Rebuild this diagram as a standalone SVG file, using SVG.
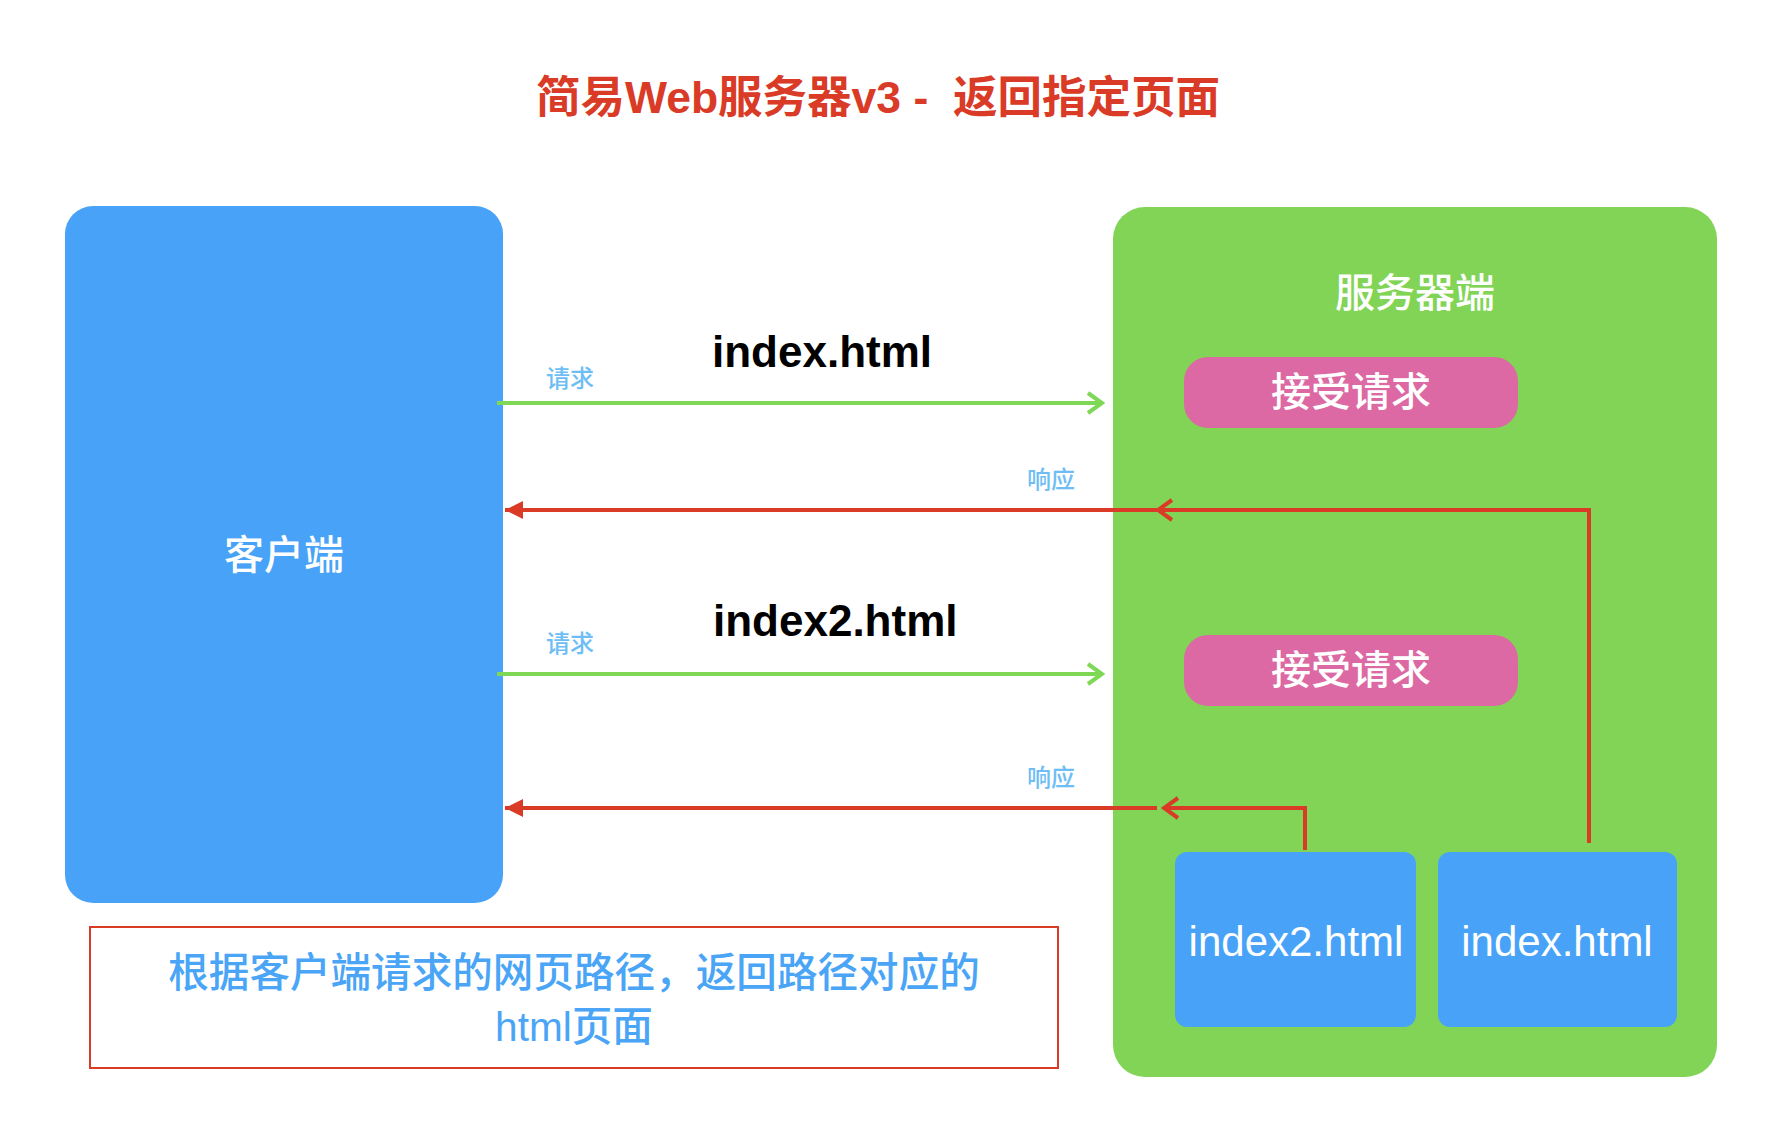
<svg xmlns="http://www.w3.org/2000/svg" width="1782" height="1124" viewBox="0 0 1782 1124">
  <style>
    .cjk { font-family: "Liberation Sans", "Noto Sans CJK SC", sans-serif; }
    .white { fill: #FFFFFF; }
    .lbl { font-size: 24px; fill: #6EBEF5; font-weight: 500; }
    .big { font-size: 40px; font-weight: 500; }
    .file { font-family: "Liberation Sans", Arial, sans-serif; font-size: 44px; font-weight: bold; fill: #000000; }
    .green { stroke: #7ED856; stroke-width: 4; fill: none; }
    .red { stroke: #D93B27; stroke-width: 4; fill: none; }
  </style>
  <defs>
    <marker id="chevG" viewBox="0 0 20 24" refX="18" refY="12" markerWidth="20" markerHeight="24" markerUnits="userSpaceOnUse" orient="auto">
      <path d="M3,2 L17,12 L3,22" fill="none" stroke="#7ED856" stroke-width="4"/>
    </marker>
    <marker id="chevR" viewBox="0 0 20 24" refX="18" refY="12" markerWidth="20" markerHeight="24" markerUnits="userSpaceOnUse" orient="auto">
      <path d="M3,2 L17,12 L3,22" fill="none" stroke="#D93B27" stroke-width="4"/>
    </marker>
    <marker id="triR" viewBox="0 0 18 20" refX="18" refY="10" markerWidth="18" markerHeight="20" markerUnits="userSpaceOnUse" orient="auto">
      <path d="M0,1 L18,10 L0,19 Z" fill="#D93B27"/>
    </marker>
  </defs>

  <rect width="1782" height="1124" fill="#FFFFFF"/>

  <text id="title" class="cjk" x="878" y="113" text-anchor="middle" font-size="44.5" font-weight="bold" fill="#D93B27" xml:space="preserve" style="white-space:pre">简易Web服务器v3 -  返回指定页面</text>

  <g id="client">
    <rect x="65" y="206" width="438" height="697" rx="28" fill="#48A3F8"/>
    <text class="cjk big white" x="284" y="569" text-anchor="middle">客户端</text>
  </g>

  <g id="server">
    <rect x="1113" y="207" width="604" height="870" rx="32" fill="#82D457"/>
    <text class="cjk big white" x="1415" y="307" text-anchor="middle">服务器端</text>
  </g>

  <g id="accept1">
    <rect x="1184" y="357" width="334" height="71" rx="24" fill="#DC69A3"/>
    <text class="cjk big white" x="1351" y="406" text-anchor="middle">接受请求</text>
  </g>

  <g id="accept2">
    <rect x="1184" y="635" width="334" height="71" rx="24" fill="#DC69A3"/>
    <text class="cjk big white" x="1351" y="684" text-anchor="middle">接受请求</text>
  </g>

  <g id="file-index2">
    <rect x="1175" y="852" width="241" height="175" rx="12" fill="#48A3F8"/>
    <text x="1296" y="956" text-anchor="middle" font-family="Liberation Sans, sans-serif" font-size="42" fill="#FFFFFF">index2.html</text>
  </g>

  <g id="file-index">
    <rect x="1438" y="852" width="239" height="175" rx="12" fill="#48A3F8"/>
    <text x="1557" y="956" text-anchor="middle" font-family="Liberation Sans, sans-serif" font-size="42" fill="#FFFFFF">index.html</text>
  </g>

  <g id="note">
    <rect x="90" y="927" width="968" height="141" fill="#FFFFFF" stroke="#D93B27" stroke-width="2"/>
    <text class="cjk" x="574" y="987" text-anchor="middle" font-size="40.6" font-weight="500" fill="#4AA5F6">根据客户端请求的网页路径，返回路径对应的</text>
    <text class="cjk" x="574" y="1041" text-anchor="middle" font-size="40.6" font-weight="500" fill="#4AA5F6">html页面</text>
  </g>

  <g id="connectors">
    <line class="green" x1="497" y1="403" x2="1103" y2="403" marker-end="url(#chevG)"/>
    <line class="green" x1="497" y1="674" x2="1103" y2="674" marker-end="url(#chevG)"/>
    <polyline class="red" points="1589,843 1589,510 1157,510" marker-end="url(#chevR)"/>
    <line class="red" x1="1160" y1="510" x2="505" y2="510" marker-end="url(#triR)"/>
    <polyline class="red" points="1305,850 1305,808 1163,808" marker-end="url(#chevR)"/>
    <line class="red" x1="1157" y1="808" x2="505" y2="808" marker-end="url(#triR)"/>
  </g>

  <g id="labels">
    <text class="file" x="712" y="367">index.html</text>
    <text class="file" x="713" y="636">index2.html</text>
    <text class="cjk lbl" x="546" y="387">请求</text>
    <text class="cjk lbl" x="546" y="652">请求</text>
    <text class="cjk lbl" x="1027" y="488">响应</text>
    <text class="cjk lbl" x="1027" y="786">响应</text>
  </g>
</svg>
